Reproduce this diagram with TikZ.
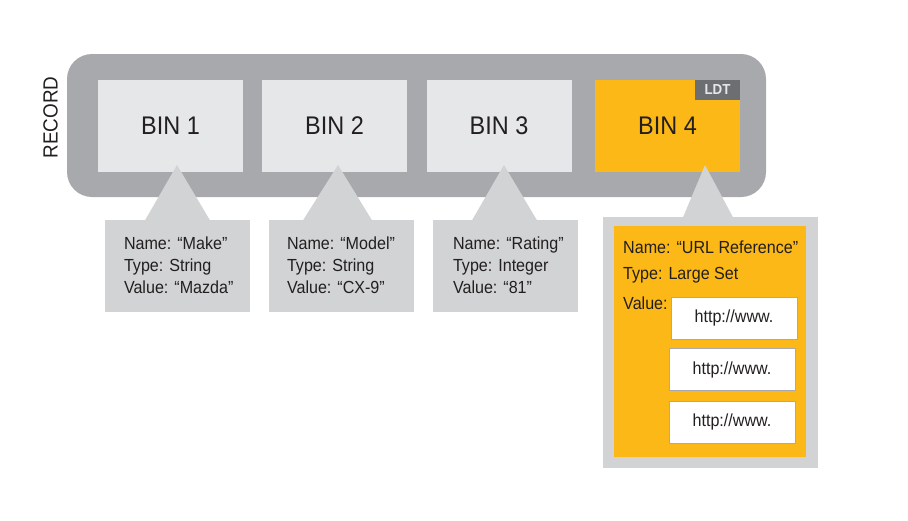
\documentclass[tikz,border=0pt]{standalone}
\usepackage{fontspec}
\setmainfont{Liberation Sans}[FakeStretch=0.92]
\usetikzlibrary{calc}
\definecolor{recgray}{HTML}{A7A9AC}
\definecolor{bingray}{HTML}{E6E7E8}
\definecolor{infogray}{HTML}{D1D3D4}
\definecolor{ldtgray}{HTML}{6D6E71}
\definecolor{aeorange}{HTML}{FBB817}
\definecolor{ink}{HTML}{231F20}
\begin{document}
\begin{tikzpicture}[x=1pt,y=-1pt,
  binbox/.style={fill=#1, minimum width=145pt, minimum height=92pt, inner sep=0pt, text=ink,
     font=\fontsize{25.5}{30}\selectfont},
  infobox/.style={fill=infogray, minimum width=145pt, minimum height=92pt, inner sep=0pt},
  infotext/.style={text=ink, align=left, inner sep=0pt, anchor=west,
     font=\fontsize{17.5}{22}\selectfont},
  urlbox/.style={fill=white, draw=recgray, line width=0.9pt, minimum width=126pt,
     minimum height=42pt, inner sep=0pt, text=ink, font=\fontsize{17.5}{20}\selectfont},
  pointer/.style={fill=infogray}
]
\useasboundingbox (0,0) rectangle (908,520);
% record
\node[fill=recgray, rounded corners=25pt, minimum width=699pt, minimum height=143pt, inner sep=0pt]
  (record) at (416.5,125.5) {};
\node[rotate=90, text=ink, inner sep=0pt, font=\fontsize{20.5}{24}\selectfont] (reclabel) at (50.5,117.5) {RECORD};
% bins
\node[binbox=bingray] (bin1) at (170.5,126) {BIN 1};
\node[binbox=bingray] (bin2) at (334.5,126) {BIN 2};
\node[binbox=bingray] (bin3) at (499,126) {BIN 3};
\node[binbox=aeorange] (bin4) at (667.5,126) {BIN 4};
\node[fill=ldtgray, minimum width=45pt, minimum height=20pt, inner sep=0pt, anchor=north east,
  text=bingray, font=\bfseries\fontsize{14.5}{16}\selectfont] (ldt) at (bin4.north east) {LDT};
% info boxes
\node[infobox] (box1) at (177.5,266) {};
\node[infobox] (box2) at (341.5,266) {};
\node[infobox] (box3) at (505.5,266) {};
\node[fill=infogray, minimum width=215pt, minimum height=251pt, inner sep=0pt] (box4) at (710.5,342.5) {};
\node[fill=aeorange, minimum width=192pt, minimum height=231pt, inner sep=0pt] (box4in) at (710,341.5) {};
% pointers
\coordinate (t1) at (177,165);
\coordinate (t2) at (338,165);
\coordinate (t3) at (504,165);
\coordinate (t4) at (705,165);
\fill[pointer] (t1) -- ($(t1 |- box1.north)+(-32,0.5)$) -- ($(t1 |- box1.north)+(33,0.5)$) -- cycle;
\fill[pointer] (t2) -- ($(t2 |- box2.north)+(-35,0.5)$) -- ($(t2 |- box2.north)+(34,0.5)$) -- cycle;
\fill[pointer] (t3) -- ($(t3 |- box3.north)+(-32,0.5)$) -- ($(t3 |- box3.north)+(33,0.5)$) -- cycle;
\fill[pointer] (t4) -- ($(t4 |- box4.north)+(-22,0.5)$) -- ($(t4 |- box4.north)+(28,0.5)$) -- cycle;
% info texts
\node[infotext] (txt1) at ($(box1.west)+(19,-1)$) {Name: “Make”\\Type: String\\Value: “Mazda”};
\node[infotext] (txt2) at ($(box2.west)+(18,-1)$) {Name: “Model”\\Type: String\\Value: “CX-9”};
\node[infotext] (txt3) at ($(box3.west)+(20,-1)$) {Name: “Rating”\\Type: Integer\\Value: “81”};
\node[infotext] (n4) at (623,247) {Name: “URL Reference”};
\node[infotext] (ty4) at (623,275) {Type: Large Set};
\node[infotext] (v4) at (623,303) {Value:};
% url boxes
\node[urlbox] (url1) at (734,318) {http://www.};
\node[urlbox] (url2) at (732,369.5) {http://www.};
\node[urlbox] (url3) at (732,422) {http://www.};
\end{tikzpicture}
\end{document}
